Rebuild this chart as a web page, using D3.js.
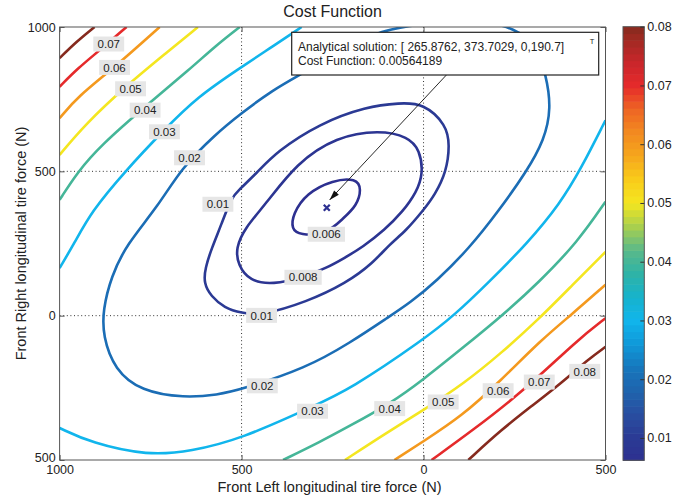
<!DOCTYPE html>
<html><head><meta charset="utf-8">
<script src="https://cdn.jsdelivr.net/npm/d3@7"></script>
<style>
html,body{margin:0;padding:0;background:#fff;}
svg{display:block;font-family:"Liberation Sans",Arial,Helvetica,sans-serif;}
</style>
</head><body>
<svg id="chart" width="684" height="495"></svg>
<script>
// ---------------- data ----------------
const chartTitle = "Cost Function";
const xAxisLabel = "Front Left longitudinal tire force (N)";
const yAxisLabel = "Front Right longitudinal tire force (N)";
const xTickValues = [-1000, -500, 0, 500];
const xTickLabels = ["1000", "500", "0", "500"];
const yTickValues = [-500, 0, 500, 1000];
const yTickLabels = ["500", "0", "500", "1000"];
const cbTickValues = [0.01, 0.02, 0.03, 0.04, 0.05, 0.06, 0.07, 0.08];
const cbTickLabels = ["0.01", "0.02", "0.03", "0.04", "0.05", "0.06", "0.07", "0.08"];
const cbRange = [0.0062, 0.08];

// contour lines (x, y)
const contour0p006 = [[-340,279],[-363,300],[-359,352],[-322,424],[-249,470],[-185,476],[-170,439],[-184,380],[-221,337],[-267,282]];
const contour0p008 = [[-240,620],[-121,643],[-42,620],[-10,574],[-1,493],[-19,428],[-58,359],[-107,297],[-167,238],[-217,200],[-267,165],[-331,133],[-414,107],[-478,120],[-510,176],[-516,234],[-491,304],[-432,389],[-349,528]];
const contour0p01 = [[0,736],[63,661],[72,591],[63,499],[31,418],[0,366],[-49,293],[-93,248],[-139,182],[-212,113],[-322,47],[-445,1],[-501,9],[-547,27],[-584,67],[-604,113],[-600,165],[-582,234],[-556,314],[-529,407],[-508,435],[-459,493],[-404,568],[-285,666],[-157,724],[-66,737]];
const contour0p02 = [[-817,245],[-730,378],[-666,510],[-574,626],[-501,701],[-414,782],[-340,834],[-210,929],[-121,984],[-57,1001],[125,1033],[260,995],[310,930],[337,834],[351,718],[332,609],[283,499],[208,366],[126,234],[36,120],[-38,44],[-93,-2],[-203,-95],[-322,-181],[-501,-256],[-565,-274],[-657,-285],[-776,-262],[-849,-187],[-881,-71],[-881,21],[-858,136]];
const contour0p03a = [[-1000,165],[-959,252],[-913,360],[-821,499],[-712,645],[-620,759],[-505,857],[-423,926],[-335,1000]];
const contour0p03b = [[-1000,-389],[-913,-441],[-757,-485],[-639,-470],[-501,-427],[-305,-315],[-203,-256],[0,-83],[86,3],[177,113],[287,253],[376,390],[433,510],[500,677]];
const contour0p04a = [[-1000,401],[-950,499],[-886,591],[-766,724],[-639,857],[-574,932],[-505,1000]];
const contour0p04b = [[500,395],[424,256],[315,113],[214,-2],[113,-106],[-1,-222],[-93,-306],[-203,-382],[-285,-438],[-386,-500]];
const contour0p05a = [[-1000,557],[-931,661],[-821,792],[-703,914],[-620,1000]];
const contour0p05b = [[500,221],[406,102],[315,-14],[214,-129],[113,-233],[0,-327],[-102,-406],[-216,-500]];
const contour0p06a = [[-1000,684],[-950,759],[-849,860],[-725,1000]];
const contour0p06b = [[500,107],[406,3],[324,-83],[208,-230],[104,-349],[0,-435],[-80,-500]];
const contour0p07a = [[-1000,793],[-950,857],[-889,920],[-816,1000]];
const contour0p07b = [[500,-9],[424,-83],[274,-262],[132,-400],[22,-500]];
const contour0p08a = [[-1000,892],[-954,949],[-904,1000]];
const contour0p08b = [[500,-108],[452,-152],[379,-233],[296,-314],[214,-395],[123,-500]];

// contour labels
const labelTexts = ["0.07","0.06","0.05","0.04","0.03","0.02","0.01","0.006","0.008","0.01","0.02","0.03","0.04","0.05","0.06","0.07","0.08"];
const labelX = [-865,-849,-805,-765,-712,-643,-565,-267,-331,-445,-443,-305,-93,54,205,318,443];
const labelY = [941,860,786,712,637,547,386,282,133,1,-243,-331,-322,-299,-260,-230,-193];

// optimum and annotation
const solutionPoint = [-265.8762, 373.7029];
const annotationLines = ["Analytical solution: [ 265.8762, 373.7029, 0,190.7]", "Cost Function: 0.00564189"];
const arrowFrom = [63, 834];
const arrowTo = [-258, 401];

// colour map
const cmapStops = [0.0062,0.010,0.014,0.018,0.022,0.026,0.030,0.034,0.038,0.042,0.046,0.050,0.054,0.058,0.062,0.066,0.070,0.074,0.078,0.080];
const cmapColors = ["#2d3090","#2b3a94","#294ea0","#1f63ad","#1777bd","#0f98d8","#11b5ec","#16b3cc","#2fb3a6","#5ab98a","#a8cf4e","#f4e620","#f9cc1a","#f6a71c","#f28a20","#ee6524","#e52a2b","#c9262b","#9f2a22","#862a1e"];

// ---------------- drawing ----------------
const contours = [
  {level:0.006, pts:contour0p006, closed:true},
  {level:0.008, pts:contour0p008, closed:true},
  {level:0.01, pts:contour0p01, closed:true},
  {level:0.02, pts:contour0p02, closed:true},
  {level:0.03, pts:contour0p03a, closed:false},
  {level:0.03, pts:contour0p03b, closed:false},
  {level:0.04, pts:contour0p04a, closed:false},
  {level:0.04, pts:contour0p04b, closed:false},
  {level:0.05, pts:contour0p05a, closed:false},
  {level:0.05, pts:contour0p05b, closed:false},
  {level:0.06, pts:contour0p06a, closed:false},
  {level:0.06, pts:contour0p06b, closed:false},
  {level:0.07, pts:contour0p07a, closed:false},
  {level:0.07, pts:contour0p07b, closed:false},
  {level:0.08, pts:contour0p08a, closed:false},
  {level:0.08, pts:contour0p08b, closed:false}
];

const svg = d3.select("#chart");
const X0 = 59.6, X1 = 605.5, Y0 = 27, Y1 = 460;
const x = d3.scaleLinear().domain([-1000, 500]).range([X0, X1]);
const y = d3.scaleLinear().domain([-500, 1000]).range([Y1, Y0]);
const color = d3.scaleLinear().domain(cmapStops).range(cmapColors).interpolate(d3.interpolateRgb).clamp(true);

svg.append("defs").append("clipPath").attr("id","plotclip")
  .append("rect").attr("x",X0).attr("y",Y0).attr("width",X1-X0).attr("height",Y1-Y0);

// grid
const grid = svg.append("g").attr("stroke","#333").attr("stroke-width",1).attr("stroke-dasharray","1,2.6");
xTickValues.filter(v => v > -1000 && v < 500).forEach(v => {
  grid.append("line").attr("x1",x(v)).attr("x2",x(v)).attr("y1",Y0).attr("y2",Y1);
});
yTickValues.filter(v => v > -500 && v < 1000).forEach(v => {
  grid.append("line").attr("x1",X0).attr("x2",X1).attr("y1",y(v)).attr("y2",y(v));
});

// contours
const plot = svg.append("g").attr("clip-path","url(#plotclip)");
const lineOpen = d3.line().x(d => x(d[0])).y(d => y(d[1])).curve(d3.curveBasis);
const lineClosed = d3.line().x(d => x(d[0])).y(d => y(d[1])).curve(d3.curveBasisClosed);
plot.selectAll("path.contour").data(contours).join("path")
  .attr("class","contour")
  .attr("d", d => (d.closed ? lineClosed : lineOpen)(d.pts))
  .attr("fill","none")
  .attr("stroke", d => color(d.level))
  .attr("stroke-width", 2.6)
  .attr("stroke-linejoin","round");

// contour labels
const lab = plot.selectAll("g.clabel").data(labelTexts).join("g").attr("class","clabel")
  .attr("transform",(d,i) => `translate(${x(labelX[i])},${y(labelY[i])})`);
lab.append("rect").attr("fill","#e6e6e6");
lab.append("text").text(d => d).attr("text-anchor","middle").attr("dy","0.36em")
  .attr("font-size",11.5).attr("fill","#222");
lab.each(function(){
  const g = d3.select(this);
  const w = g.select("text").node().getComputedTextLength() + 8.5;
  g.select("rect").attr("x",-w/2).attr("y",-7.5).attr("width",w).attr("height",15);
});

// solution marker
const mx = x(solutionPoint[0]), my = y(solutionPoint[1]);
svg.append("path").attr("d",`M${mx-3},${my-3}L${mx+3},${my+3}M${mx-3},${my+3}L${mx+3},${my-3}`)
  .attr("stroke","#2d3090").attr("stroke-width",2.2).attr("fill","none");

// arrow
const ax0 = x(arrowFrom[0]), ay0 = y(arrowFrom[1]), ax1 = x(arrowTo[0]), ay1 = y(arrowTo[1]);
svg.append("line").attr("x1",ax0).attr("y1",ay0).attr("x2",ax1).attr("y2",ay1)
  .attr("stroke","#111").attr("stroke-width",0.9);
{
  const ang = Math.atan2(ay1-ay0, ax1-ax0);
  const L = 10, Wd = 3.2;
  const bx = ax1 - L*Math.cos(ang), by = ay1 - L*Math.sin(ang);
  const px = -Math.sin(ang)*Wd, py = Math.cos(ang)*Wd;
  svg.append("path").attr("d",`M${ax1},${ay1}L${bx+px},${by+py}L${bx-px},${by-py}Z`).attr("fill","#111");
}

// annotation box
const ab = svg.append("g");
ab.append("rect").attr("x",291.7).attr("y",32.3).attr("width",307).attr("height",42.7)
  .attr("fill","#fff").attr("stroke","#222").attr("stroke-width",1.2);
ab.selectAll("text.ann").data(annotationLines).join("text").attr("class","ann")
  .attr("x",298).attr("y",(d,i) => 51 + i*13.5).attr("font-size",12).attr("fill","#222").text(d => d);
ab.append("text").attr("x",592).attr("y",43.5).attr("font-size",7.5).attr("text-anchor","middle").attr("fill","#222").text("T");

// axes box and ticks
svg.append("rect").attr("x",X0).attr("y",Y0).attr("width",X1-X0).attr("height",Y1-Y0)
  .attr("fill","none").attr("stroke","#555").attr("stroke-width",1);

function styleAxis(g){
  g.select(".domain").remove();
  g.selectAll(".tick line").attr("stroke","#555");
  g.selectAll(".tick text").attr("fill","#222").attr("font-size",12.5)
    .attr("font-family",'"Liberation Sans",Arial,sans-serif');
}
svg.append("g").attr("transform",`translate(0,${Y1})`)
  .call(d3.axisBottom(x).tickValues(xTickValues).tickFormat((d,i) => xTickLabels[i]).tickSize(-5).tickPadding(5.5))
  .call(styleAxis);
const yAxisG = svg.append("g").attr("transform",`translate(${X0},0)`)
  .call(d3.axisLeft(y).tickValues(yTickValues).tickFormat((d,i) => yTickLabels[i]).tickSize(-5).tickPadding(4))
  .call(styleAxis);
yAxisG.selectAll(".tick text").filter(d => d === yTickValues[0]).attr("dy","0.12em");
svg.append("g").attr("transform",`translate(0,${Y0})`)
  .call(d3.axisTop(x).tickValues(xTickValues).tickFormat("").tickSize(-5)).call(styleAxis);
svg.append("g").attr("transform",`translate(${X1},0)`)
  .call(d3.axisRight(y).tickValues(yTickValues).tickFormat("").tickSize(-5)).call(styleAxis);

// titles
svg.append("text").attr("x",(X0+X1)/2).attr("y",17).attr("text-anchor","middle")
  .attr("font-size",16).attr("fill","#222").text(chartTitle);
svg.append("text").attr("x",(X0+X1)/2 - 3).attr("y",491.5).attr("text-anchor","middle")
  .attr("font-size",14.5).attr("fill","#222").text(xAxisLabel);
svg.append("text").attr("transform",`translate(26,${(Y0+Y1)/2}) rotate(-90)`).attr("text-anchor","middle")
  .attr("font-size",14.5).attr("fill","#222").text(yAxisLabel);

// colorbar
const CB0 = 623, CBW = 21.3, CBT = 26.7, CBB = 460.3;
const cb = d3.scaleLinear().domain(cbRange).range([CBB, CBT]);
const nBands = 64;
const bandVals = d3.range(nBands).map(i => cbRange[0] + (i + 0.5) * (cbRange[1] - cbRange[0]) / nBands);
const bandH = (CBB - CBT) / nBands;
svg.append("g").selectAll("rect").data(bandVals).join("rect")
  .attr("x",CB0).attr("width",CBW)
  .attr("y",(d,i) => CBB - (i+1)*bandH).attr("height",bandH + 0.6)
  .attr("fill", d => color(d));
svg.append("rect").attr("x",CB0).attr("y",CBT).attr("width",CBW).attr("height",CBB-CBT)
  .attr("fill","none").attr("stroke","#555").attr("stroke-width",1);
const cbAxis = svg.append("g").attr("transform",`translate(${CB0+CBW},0)`)
  .call(d3.axisRight(cb).tickValues(cbTickValues).tickFormat((d,i) => cbTickLabels[i]).tickSize(-4).tickPadding(3))
  .call(styleAxis);
cbAxis.selectAll(".tick line").attr("stroke","#333");
</script>
</body></html>
